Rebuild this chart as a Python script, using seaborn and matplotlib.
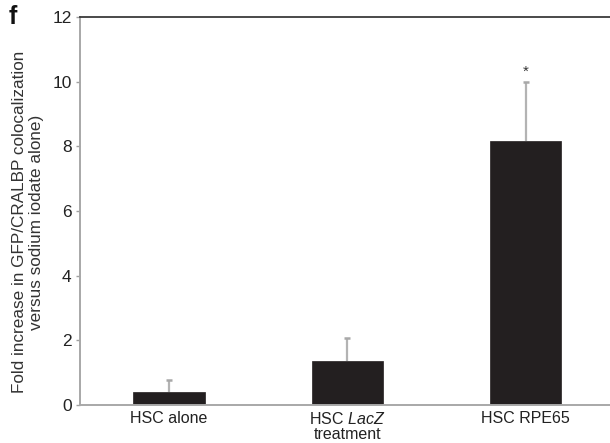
import matplotlib
matplotlib.use("Agg")
import matplotlib.pyplot as plt
import seaborn as sns
import pandas as pd

# Fold increase in GFP/CRALBP colocalization per treatment group
groups = ["HSC alone", "HSC LacZ", "HSC RPE65"]
tick_labels = ["HSC alone", "HSC $\\mathit{LacZ}$\ntreatment", "HSC RPE65"]
fold_increase = [0.40, 1.37, 8.18]
sem_upper = [0.38, 0.71, 1.82]
significance = ["", "", "*"]

sns.set_theme(style="white")
plt.rcParams["font.family"] = ["Liberation Sans", "DejaVu Sans"]
plt.rcParams["mathtext.fontset"] = "custom"
plt.rcParams["mathtext.it"] = "Liberation Sans:italic"
plt.rcParams["mathtext.rm"] = "Liberation Sans"

df = pd.DataFrame({"group": groups, "fold": fold_increase})

fig = plt.figure(figsize=(6.10, 4.43), dpi=100)
ax = fig.add_axes([80 / 610, 38 / 443, 535 / 610, 388 / 443])

sns.barplot(data=df, x="group", y="fold", ax=ax, color="#231f20",
            width=0.40, saturation=1, edgecolor="#231f20", linewidth=0.5,
            zorder=2)

# upper-only error bars: stem from the bar top, small cap at the end
xs = list(range(len(groups)))
tops = [v + e for v, e in zip(fold_increase, sem_upper)]
ax.vlines(xs, fold_increase, tops, colors="#b3b3b3", linewidth=1.6, zorder=1)
ax.plot(xs, tops, linestyle="none", marker="_", markersize=4,
        markeredgewidth=1.8, color="#a8a8a8", zorder=1)

for x, t, s in zip(xs, tops, significance):
    if s:
        ax.text(x, t + 0.08, s, ha="center", va="bottom",
                fontsize=11, color="#333333")

ax.set_xlim(-0.5, 2.5)
ax.set_ylim(0, 12)
ax.set_yticks([0, 2, 4, 6, 8, 10, 12])
ax.set_xticks(xs)
ax.set_xticklabels(tick_labels, fontsize=11.5, color="#222222", linespacing=1.0)
ax.tick_params(axis="y", labelsize=12.5, labelcolor="#222222", length=3,
               color="#a0a0a0", width=1, left=True, pad=3)
ax.tick_params(axis="x", length=0, pad=4)
ax.set_xlabel("")
ax.set_ylabel("")

fig.text(28 / 610, 1 - 222 / 443,
         "Fold increase in GFP/CRALBP colocalization\nversus sodium iodate alone)",
         rotation=90, ha="center", va="center", multialignment="center",
         fontsize=12.3, color="#333333", linespacing=1.2)

for side in ["left", "bottom"]:
    ax.spines[side].set_color("#a8a8a8")
    ax.spines[side].set_linewidth(1.4)
ax.spines["top"].set_color("#3a3a3a")
ax.spines["top"].set_linewidth(1.3)
ax.spines["right"].set_visible(False)

fig.text(9 / 610, 1 - 17 / 443, "f", fontsize=18, fontweight="bold",
         color="#111111", va="center", ha="left")

fig.savefig("out.png", dpi=100)
